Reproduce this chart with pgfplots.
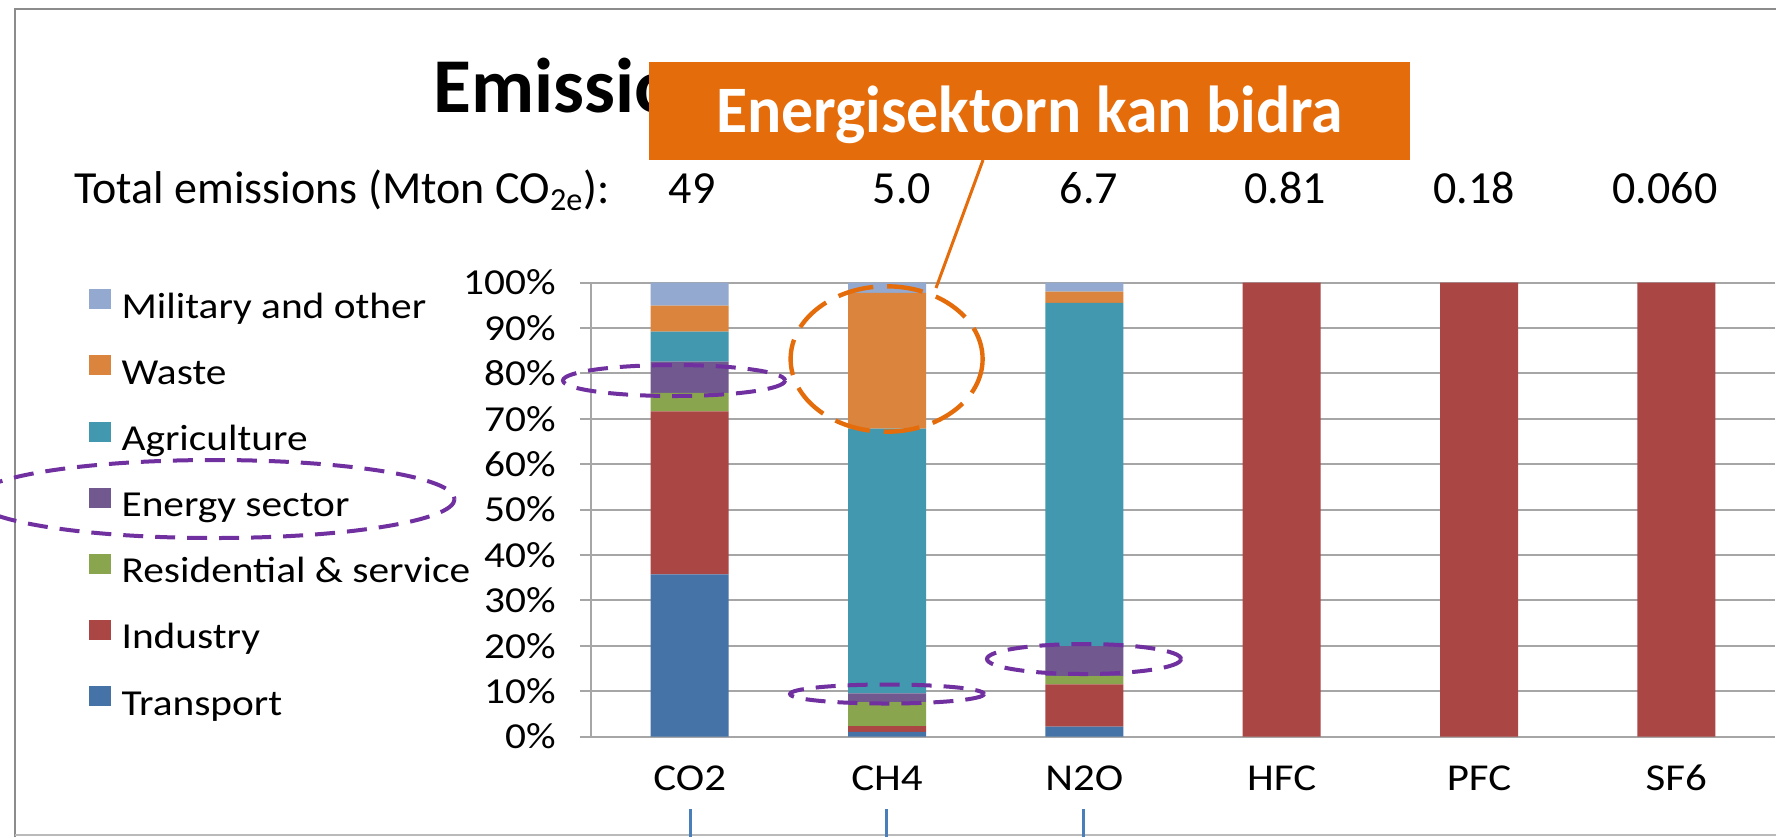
\documentclass[border=0pt]{standalone}
\usepackage{fontspec}
\setmainfont{Carlito}
\newfontfamily\chartfamily[FakeStretch=1.13]{Carlito}
\usepackage{pgfplots}
\pgfplotsset{compat=1.18}
\usepackage{pgfplotstable}

\definecolor{cTransport}{HTML}{4572A7}
\definecolor{cIndustry}{HTML}{AA4643}
\definecolor{cResidential}{HTML}{89A54E}
\definecolor{cEnergy}{HTML}{71588F}
\definecolor{cAgriculture}{HTML}{4198AF}
\definecolor{cWaste}{HTML}{DB843D}
\definecolor{cMilitary}{HTML}{93A9CF}
\definecolor{gridgray}{HTML}{A6A6A6}
\definecolor{framegray}{HTML}{8C8C8C}
\definecolor{calloutorange}{HTML}{E46C0A}
\definecolor{hlpurple}{HTML}{7030A0}
\definecolor{slideblue}{HTML}{4A7EBB}

\newcommand{\tickfont}{\chartfamily\fontsize{18.3pt}{22pt}\selectfont}
\newcommand{\xfont}{\chartfamily\fontsize{19pt}{23pt}\selectfont}
\newcommand{\totfont}{\fontsize{23pt}{27pt}\selectfont}

\pgfplotstableread{
x T I R E A W M
0 35.7 35.9 4.1 6.9 6.6 5.7 5.1
1 1.0 1.3 5.3 1.9 58.3 29.9 2.3
2 2.2 9.3 1.8 6.6 75.6 2.5 2.0
3 0 100 0 0 0 0 0
4 0 100 0 0 0 0 0
5 0 100 0 0 0 0 0
}\datatable

\pgfplotsset{
  mybar/.style={fill=#1, draw=none,
    legend image code/.code={\fill[#1] (0pt,0pt) rectangle (11pt,10pt);}},
}

\begin{document}
\begin{tikzpicture}
\useasboundingbox (0,0) rectangle (888pt,-418.5pt);
\begin{scope}[x=0.5pt,y=-0.5pt]
  \fill[white] (0,0) rectangle (1776,837);
  \draw[framegray, line width=1pt] (15,837) -- (15,9) -- (1776,9);
  \draw[framegray!60, line width=1pt] (15,835) -- (1776,835);
\end{scope}

\begin{axis}[
  at={(295.5pt,-368.25pt)}, anchor=south west,
  scale only axis, width=592pt, height=227pt,
  ybar stacked, bar width=39pt,
  xmin=-0.5, xmax=5.5, ymin=0, ymax=100,
  axis x line*=bottom, axis y line*=left,
  axis line style={gridgray, line width=1pt},
  xtick={0,...,5},
  xticklabels={CO2,CH4,N2O,HFC,PFC,SF6},
  xtick style={draw=none},
  minor xtick={-0.5,0.5,...,5.5},
  minor x tick style={gridgray, line width=1pt},
  minor tick length=7.5pt,
  xtick align=outside,
  ytick={0,10,...,100},
  yticklabels={0\%,10\%,20\%,30\%,40\%,50\%,60\%,70\%,80\%,90\%,100\%},
  ytick align=outside,
  major tick length=5.5pt,
  ytick style={gridgray, line width=1pt},
  ymajorgrids,
  major grid style={gridgray, line width=1pt},
  yticklabel style={font=\tickfont, anchor=east, inner sep=0pt, xshift=-12pt},
  xticklabel style={font=\xfont, anchor=base, inner sep=0pt, yshift=-21.25pt},
  reverse legend,
  legend cell align=left,
  legend style={at={(axis description cs:-0.424,0.985)}, anchor=north west,
    draw=none, fill=none, inner sep=0pt, outer sep=0pt,
    row sep=13.9pt, column sep=5.3pt, font=\tickfont,
    nodes={inner sep=0pt, text height=13.7pt, text depth=4.6pt}},
  clip=false,
]
\addplot[mybar=cTransport] table[x=x,y=T] {\datatable};
\addlegendentry{Transport}
\addplot[mybar=cIndustry] table[x=x,y=I] {\datatable};
\addlegendentry{Industry}
\addplot[mybar=cResidential] table[x=x,y=R] {\datatable};
\addlegendentry{Residential \& service}
\addplot[mybar=cEnergy] table[x=x,y=E] {\datatable};
\addlegendentry{Energy sector}
\addplot[mybar=cAgriculture] table[x=x,y=A] {\datatable};
\addlegendentry{Agriculture}
\addplot[mybar=cWaste] table[x=x,y=W] {\datatable};
\addlegendentry{Waste}
\addplot[mybar=cMilitary] table[x=x,y=M] {\datatable};
\addlegendentry{Military and other}
\end{axis}

\begin{scope}[x=0.5pt,y=-0.5pt]
  % title (mostly hidden behind the callout box)
  \node[anchor=base west, inner sep=0pt, font=\fontsize{38.8pt}{44pt}\selectfont\bfseries] at (433,112) {Emissions};
  % total emissions row
  \node[anchor=base west, inner sep=0pt, font=\totfont] at (74,203) {Total emissions (Mton CO\textsubscript{2e}):};
  \foreach \xx/\vv in {692/49, 902/5.0, 1089/6.7, 1285/0.81, 1474/0.18, 1665/0.060}
    \node[anchor=base, inner sep=0pt, font=\totfont] at (\xx,203) {\vv};
  % slide connector lines
  \foreach \xx in {690.5, 886.4, 1083}
    \draw[slideblue, line width=1.5pt] (\xx,809) -- (\xx,837);
  % highlight ellipses
  \begin{scope}[hlpurple, line width=2pt, dash pattern=on 10pt off 6pt]
    \draw (674,380.5) ellipse [x radius=111, y radius=15.5];
    \draw (887,694) ellipse [x radius=97, y radius=9.5];
    \draw (1084,659) ellipse [x radius=97, y radius=15];
    \draw (214.6,499) ellipse [x radius=240, y radius=39];
  \end{scope}
  \draw[calloutorange, line width=2.2pt, dash pattern=on 18pt off 7pt] (886.6,359) ellipse [x radius=96, y radius=72.7];
  % callout
  \draw[calloutorange, line width=1.5pt] (983,160) -- (936,288);
  \fill[calloutorange] (649,62) rectangle (1410,160);
  \node[text=white, inner sep=0pt, anchor=base, font=\fontsize{33.2pt}{38pt}\selectfont\bfseries] at (1029.5,132) {\scalebox{0.96}[1]{Energisektorn kan bidra}};
\end{scope}
\end{tikzpicture}
\end{document}
